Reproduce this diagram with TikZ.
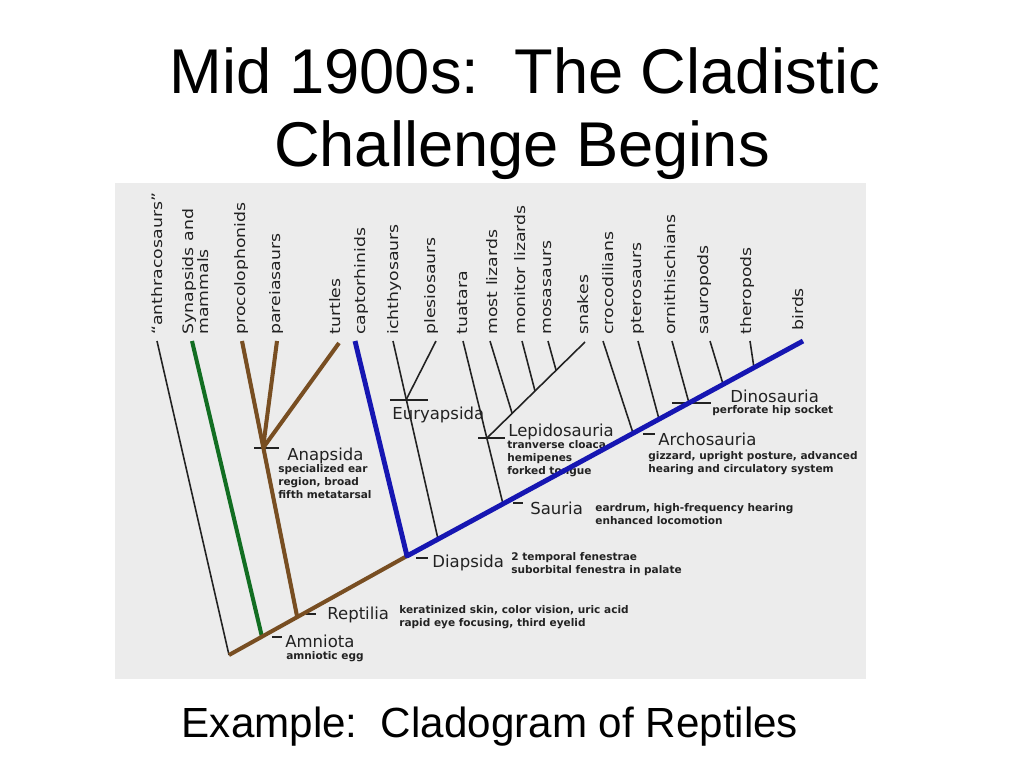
\documentclass[tikz,border=0pt]{standalone}
\usepackage{fontspec}
\setmainfont{Liberation Sans}
\newfontfamily\cladefont{DejaVu Sans}
\usetikzlibrary{positioning}

\definecolor{panelgray}{RGB}{236,236,236}
\definecolor{stembrown}{RGB}{120,78,34}
\definecolor{stemgreen}{RGB}{18,110,34}
\definecolor{stemblue}{RGB}{22,22,178}
\definecolor{inkgray}{RGB}{34,34,34}

\begin{document}
\begin{tikzpicture}[x=0.02cm, y=-0.02cm, line join=round,
  twig/.style={inkgray, line width=0.9pt},
  brownstem/.style={stembrown, line width=2.3pt},
  greenstem/.style={stemgreen, line width=2.3pt},
  bluestem/.style={stemblue, line width=2.8pt},
  taxon/.style={rotate=90, xscale=1.2, anchor=west, inner sep=0pt, align=left,
    text=inkgray, font=\cladefont\fontsize{8.2}{8.6}\selectfont},
  clade/.style={anchor=base west, inner sep=0pt, text=inkgray,
    font=\cladefont\fontsize{9.4}{11}\selectfont},
  trait/.style={anchor=north west, inner sep=0pt, align=left, text=inkgray,
    font=\cladefont\bfseries\fontsize{6}{7.4}\selectfont},
  slide/.style={anchor=base, inner sep=0pt, font=\fontsize{36}{40}\selectfont}]
  \useasboundingbox (0,0) rectangle (1024,768);
  \fill[white] (0,0) rectangle (1024,768);

  % slide text
  \node[slide] (title1) at (525,93) {Mid 1900s:\ \ The Cladistic};
  \node[slide] (title2) at (522,166) {Challenge Begins};
  \node[anchor=base, inner sep=0pt, font=\fontsize{24}{28}\selectfont]
    (caption) at (490,737) {Example:\ \ Cladogram of Reptiles};

  % picture panel
  \fill[panelgray] (115,183) rectangle (866,679);

  % junctions on the spine
  \coordinate (root) at (229,655);
  \coordinate (nAmn) at (262,637);
  \coordinate (nRep) at (297,616);
  \coordinate (nDia) at (407,556);
  \coordinate (nIch) at (438,539);
  \coordinate (nSau) at (503,504);
  \coordinate (nArc) at (633,433);
  \coordinate (nPte) at (659,419);
  \coordinate (nDin) at (689,403);
  \coordinate (nSrp) at (723,384);
  \coordinate (nThe) at (754,368);
  % side junctions
  \coordinate (nAna) at (263,448);
  \coordinate (nEur) at (406,400);
  \coordinate (nLep) at (487,438);
  \coordinate (jLiz) at (512,413);
  \coordinate (jMon) at (535,391);
  \coordinate (jMos) at (556,370);
  % branch tips
  \coordinate (tAnth) at (157,341);
  \coordinate (tSyn) at (192,341);
  \coordinate (tProc) at (242,341);
  \coordinate (tPar) at (277,341);
  \coordinate (tTurt) at (339,343);
  \coordinate (tCapt) at (355,341);
  \coordinate (tIch) at (393,341);
  \coordinate (tPles) at (436,341);
  \coordinate (tTua) at (463,341);
  \coordinate (tLiz) at (490,341);
  \coordinate (tMon) at (522,341);
  \coordinate (tMos) at (548,341);
  \coordinate (tSnk) at (585,342);
  \coordinate (tCroc) at (603,341);
  \coordinate (tPter) at (638,341);
  \coordinate (tOrn) at (672,341);
  \coordinate (tSrp) at (710,341);
  \coordinate (tThe) at (750,341);
  \coordinate (tBird) at (803,341);

  % taxa
  \node[taxon] (lAnth) at (157,335) {“anthracosaurs”};
  \node[taxon] (lSyn) at (196,335) {Synapsids and\\mammals};
  \node[taxon] (lProc) at (242,335) {procolophonids};
  \node[taxon] (lPar) at (277,335) {pareiasaurs};
  \node[taxon] (lTurt) at (335,335) {turtles};
  \node[taxon] (lCapt) at (362,335) {captorhinids};
  \node[taxon] (lIch) at (395,335) {ichthyosaurs};
  \node[taxon] (lPles) at (432,335) {plesiosaurs};
  \node[taxon] (lTua) at (463,335) {tuatara};
  \node[taxon] (lLiz) at (492,335) {most lizards};
  \node[taxon] (lMon) at (520,335) {monitor lizards};
  \node[taxon] (lMos) at (548,335) {mosasaurs};
  \node[taxon] (lSnk) at (583,335) {snakes};
  \node[taxon] (lCroc) at (608,335) {crocodilians};
  \node[taxon] (lPter) at (638,335) {pterosaurs};
  \node[taxon] (lOrn) at (670,335) {ornithischians};
  \node[taxon] (lSrp) at (705,335) {sauropods};
  \node[taxon] (lThe) at (748,335) {theropods};
  \node[taxon] (lBird) at (798,331) {birds};

  % clades and their traits
  \node[clade] (lAmn) at (285,647) {Amniota};
  \node[trait] (dAmn) at (286,651) {amniotic egg};
  \node[clade] (lRep) at (327,619) {Reptilia};
  \node[trait] (dRep) at (399,605) {keratinized skin, color vision, uric acid\\rapid eye focusing, third eyelid};
  \node[clade] (lAna) at (287,460) {Anapsida};
  \node[trait] (dAna) at (278,464) {specialized ear\\region, broad\\fifth metatarsal};
  \node[clade] (lDia) at (432,567) {Diapsida};
  \node[trait] (dDia) at (511,552) {2 temporal fenestrae\\suborbital fenestra in palate};
  \node[clade] (lEur) at (392,419) {Euryapsida};
  \node[clade] (lSau) at (530,514) {Sauria};
  \node[trait] (dSau) at (595,503) {eardrum, high-frequency hearing\\enhanced locomotion};
  \node[clade] (lLep) at (508,436) {Lepidosauria};
  \node[trait] (dLep) at (507,440) {tranverse cloaca\\hemipenes\\forked tongue};
  \node[clade] (lArc) at (658,445) {Archosauria};
  \node[trait] (dArc) at (648,451) {gizzard, upright posture, advanced\\hearing and circulatory system};
  \node[clade] (lDin) at (730,402) {Dinosauria};
  \node[trait] (dDin) at (712,405) {perforate hip socket};

  % thin branches
  \draw[twig] (tAnth) -- (root);
  \draw[twig] (tIch) -- (nIch);
  \draw[twig] (tPles) -- (nEur);
  \draw[twig] (tTua) -- (nSau);
  \draw[twig] (tSnk) -- (nLep);
  \draw[twig] (tLiz) -- (jLiz);
  \draw[twig] (tMon) -- (jMon);
  \draw[twig] (tMos) -- (jMos);
  \draw[twig] (tCroc) -- (nArc);
  \draw[twig] (tPter) -- (nPte);
  \draw[twig] (tOrn) -- (nDin);
  \draw[twig] (tSrp) -- (nSrp);
  \draw[twig] (tThe) -- (nThe);

  % cross bars and ticks
  \draw[twig] (nAna) ++(-9,0) -- ++(25,0);
  \draw[twig] (nEur) ++(-16,0) -- ++(38,0);
  \draw[twig] (nLep) ++(-9,0) -- ++(27,0);
  \draw[twig] (nDin) ++(-17,0) -- ++(39,0);
  \draw[twig] (lAmn.base west) ++(-13,-10) -- ++(10,0);
  \draw[twig] (lRep.base west) ++(-21,-5) -- ++(10,0);
  \draw[twig] (lDia.base west) ++(-16,-9) -- ++(12,0);
  \draw[twig] (lSau.base west) ++(-17,-11) -- ++(10,0);
  \draw[twig] (lArc.base west) ++(-15,-11) -- ++(12,0);

  % coloured lineages
  \draw[greenstem] (tSyn) -- (nAmn);
  \draw[brownstem] (tProc) -- (nRep);
  \draw[brownstem] (tPar) -- (nAna);
  \draw[brownstem] (tTurt) -- (nAna);
  \draw[brownstem] (root) -- (nDia);
  \draw[bluestem] (tCapt) -- (nDia) -- (tBird);
\end{tikzpicture}
\end{document}
